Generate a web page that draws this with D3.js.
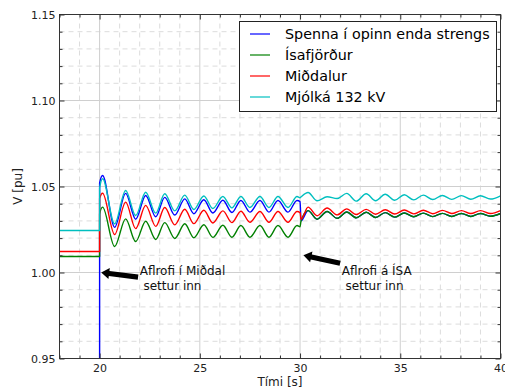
<!DOCTYPE html>
<html><head><meta charset="utf-8">
<script src="https://cdn.jsdelivr.net/npm/d3@7"></script>
<style>
body{margin:0;background:#fff;}
svg text{font-family:"DejaVu Sans",sans-serif;}
</style>
</head><body>
<svg id="chart" width="505" height="390"></svg>
<script>
// ---------- data ----------
const xTicks = [20, 25, 30, 35, 40];
const yTicks = [0.95, 1.00, 1.05, 1.10, 1.15];
const seriesNames = ["Spenna í opinn enda strengs", "Ísafjörður", "Miðdalur", "Mjólká 132 kV"];

// before the first switching (t = 18 .. 20)
const tPre = [18, 20];
const bluePre  = [0, 0];
const greenPre = [1.0093, 1.0093];
const redPre   = [1.0122, 1.0122];
const cyanPre  = [1.0244, 1.0244];

// after the first switching (extrema)
const t1 = [20.001, 20.15, 20.75, 21.3, 21.8, 22.3, 22.8, 23.25, 23.75, 24.25, 24.7, 25.2, 25.65, 26.15, 26.6, 27.05, 27.5, 28.0, 28.45, 28.9, 29.4, 29.85, 30.0];
const blue1  = [1.052, 1.0564, 1.0263, 1.0460, 1.0310, 1.0448, 1.0324, 1.0437, 1.0334, 1.0428, 1.0342, 1.0423, 1.0346, 1.0420, 1.0349, 1.0419, 1.0351, 1.0419, 1.0351, 1.0419, 1.0351, 1.0419, 1.0412];
const green1 = [1.034, 1.0380, 1.0151, 1.0312, 1.0180, 1.0298, 1.0192, 1.0290, 1.0198, 1.0283, 1.0202, 1.0278, 1.0204, 1.0275, 1.0205, 1.0273, 1.0205, 1.0273, 1.0205, 1.0273, 1.0205, 1.0273, 1.0266];
const red1   = [1.043, 1.0461, 1.0221, 1.0409, 1.0255, 1.0390, 1.0268, 1.0378, 1.0277, 1.0368, 1.0284, 1.0362, 1.0288, 1.0358, 1.0290, 1.0356, 1.0292, 1.0355, 1.0292, 1.0355, 1.0292, 1.0355, 1.0348];
const cyan1  = [1.049, 1.0545, 1.0283, 1.0477, 1.0331, 1.0467, 1.0345, 1.0458, 1.0358, 1.0450, 1.0366, 1.0445, 1.0372, 1.0442, 1.0376, 1.0442, 1.0378, 1.0442, 1.0378, 1.0442, 1.0378, 1.0442, 1.0435];

// after the second switching
const t2 = [30.05, 30.4, 30.85, 31.35, 31.85, 32.33, 32.8, 33.3, 33.77, 34.25, 34.72, 35.2, 35.67, 36.15, 36.62, 37.1, 37.57, 38.05, 38.52, 39.0, 39.5, 40.0];
const blue2  = [1.0300, 1.0360, 1.0310, 1.0355, 1.0315, 1.0352, 1.0318, 1.0350, 1.0320, 1.0348, 1.0322, 1.0346, 1.0324, 1.0345, 1.0325, 1.0344, 1.0326, 1.0343, 1.0326, 1.0343, 1.0327, 1.0343];
const green2 = [1.0300, 1.0360, 1.0310, 1.0355, 1.0315, 1.0352, 1.0318, 1.0350, 1.0320, 1.0348, 1.0322, 1.0346, 1.0324, 1.0345, 1.0325, 1.0344, 1.0326, 1.0343, 1.0326, 1.0343, 1.0327, 1.0343];
const red2   = [1.0310, 1.0380, 1.0330, 1.0375, 1.0335, 1.0370, 1.0337, 1.0367, 1.0339, 1.0365, 1.0340, 1.0363, 1.0341, 1.0362, 1.0342, 1.0361, 1.0343, 1.0360, 1.0343, 1.0360, 1.0343, 1.0360];
const cyan2  = [1.0440, 1.0465, 1.0417, 1.0440, 1.0430, 1.0460, 1.0415, 1.0458, 1.0417, 1.0455, 1.0420, 1.0452, 1.0422, 1.0450, 1.0424, 1.0448, 1.0425, 1.0447, 1.0426, 1.0446, 1.0427, 1.0446];

// annotations (text lines, arrow tip, arrow tail, text anchor) in data units
const annotTexts = [["Aflrofi í Miðdal", " settur inn"], ["Aflrofi á ÍSA", " settur inn"]];
const annotTips  = [[20.08, 1.000], [30.17, 1.010]];
const annotTails = [[21.92, 0.9973], [32.0, 1.0054]];
const annotTextAt = [[22.0, 1.0], [32.08, 1.0]];

// ---------- layout / style ----------
const colors = ["#0000ff", "#008000", "#ff0000", "#00bfbf"];
const L = 59.5, R = 500.5, T = 14.5, B = 358.5;
const svg = d3.select("#chart");

const x = d3.scaleLinear().domain([18, 40]).range([L, R]);
const y = d3.scaleLinear().domain([0.95, 1.15]).range([B, T]);

svg.append("rect").attr("x", L).attr("y", T).attr("width", R - L).attr("height", B - T).attr("fill", "#fff");

const xMinor = d3.range(18, 40.001, 1).filter(v => !xTicks.includes(v));
const yMinor = d3.range(95, 115.001, 1).map(v => +(v / 100).toFixed(2)).filter(v => !yTicks.some(t => Math.abs(t - v) < 1e-9));

// grid
const grid = svg.append("g");
grid.selectAll(".gxm").data(xMinor).enter().append("line")
  .attr("x1", d => x(d)).attr("x2", d => x(d)).attr("y1", T).attr("y2", B)
  .attr("stroke", "#dcdcdc").attr("stroke-dasharray", "5,4").attr("stroke-width", 1);
grid.selectAll(".gym").data(yMinor).enter().append("line")
  .attr("y1", d => y(d)).attr("y2", d => y(d)).attr("x1", L).attr("x2", R)
  .attr("stroke", "#dcdcdc").attr("stroke-dasharray", "5,4").attr("stroke-width", 1);
grid.selectAll(".gx").data(xTicks).enter().append("line")
  .attr("x1", d => x(d)).attr("x2", d => x(d)).attr("y1", T).attr("y2", B)
  .attr("stroke", "#cfcfcf").attr("stroke-width", 1);
grid.selectAll(".gy").data(yTicks).enter().append("line")
  .attr("y1", d => y(d)).attr("y2", d => y(d)).attr("x1", L).attr("x2", R)
  .attr("stroke", "#cfcfcf").attr("stroke-width", 1);

// series
svg.append("clipPath").attr("id", "clip").append("rect")
  .attr("x", L).attr("y", T).attr("width", R - L).attr("height", B - T);
const plot = svg.append("g").attr("clip-path", "url(#clip)");
const line = d3.line().x(d => x(d[0])).y(d => y(d[1])).curve(d3.curveMonotoneX);
const zip = (ts, vs) => ts.map((t, i) => [t, vs[i]]);

const seriesData = [
  [...zip(tPre, bluePre), ...zip(t1, blue1), ...zip(t2, blue2)],
  [...zip(tPre, greenPre), ...zip(t1, green1), ...zip(t2, green2)],
  [...zip(tPre, redPre), ...zip(t1, red1), ...zip(t2, red2)],
  [...zip(tPre, cyanPre), ...zip(t1, cyan1), ...zip(t2, cyan2)]
];
seriesData.forEach((pts, i) => {
  plot.append("path").attr("d", line(pts)).attr("fill", "none")
    .attr("stroke", colors[i]).attr("stroke-width", 1.4).attr("stroke-linejoin", "round");
});

// axes
function addAxis(axis, tx, ty, labels) {
  const g = svg.append("g").attr("transform", `translate(${tx},${ty})`).call(axis);
  g.select(".domain").remove();
  g.selectAll("line").attr("stroke", "#333");
  g.selectAll("text").attr("font-size", 11).attr("fill", "#222").attr("font-family", "DejaVu Sans, sans-serif");
  if (!labels) g.selectAll("text").remove();
  return g;
}
addAxis(d3.axisBottom(x).tickValues(xTicks).tickFormat(d3.format("d")).tickSizeInner(-5).tickSizeOuter(0).tickPadding(6), 0, B, true);
addAxis(d3.axisBottom(x).tickValues(xMinor).tickSizeInner(-3).tickSizeOuter(0), 0, B, false);
addAxis(d3.axisTop(x).tickValues(xTicks).tickSizeInner(-5).tickSizeOuter(0), 0, T, false);
addAxis(d3.axisTop(x).tickValues(xMinor).tickSizeInner(-3).tickSizeOuter(0), 0, T, false);
addAxis(d3.axisLeft(y).tickValues(yTicks).tickFormat(d3.format(".2f")).tickSizeInner(-5).tickSizeOuter(0).tickPadding(4), L, 0, true);
addAxis(d3.axisLeft(y).tickValues(yMinor).tickSizeInner(-3).tickSizeOuter(0), L, 0, false);
addAxis(d3.axisRight(y).tickValues(yTicks).tickSizeInner(-5).tickSizeOuter(0), R, 0, false);
addAxis(d3.axisRight(y).tickValues(yMinor).tickSizeInner(-3).tickSizeOuter(0), R, 0, false);

svg.append("rect").attr("x", L).attr("y", T).attr("width", R - L).attr("height", B - T)
  .attr("fill", "none").attr("stroke", "#333").attr("stroke-width", 1);

// axis labels
svg.append("text").attr("x", (L + R) / 2).attr("y", 386).attr("text-anchor", "middle")
  .attr("font-size", 12).attr("fill", "#222").text("Tími [s]");
svg.append("text").attr("transform", `translate(22,${(T + B) / 2 + 0}) rotate(-90)`)
  .attr("text-anchor", "middle").attr("font-size", 12).attr("fill", "#222").text("V [pu]");

// annotations
annotTexts.forEach((lines, i) => {
  const tip = [x(annotTips[i][0]), y(annotTips[i][1])];
  const tail = [x(annotTails[i][0]), y(annotTails[i][1])];
  const dx = tail[0] - tip[0], dy = tail[1] - tip[1];
  const len = Math.hypot(dx, dy), ux = dx / len, uy = dy / len, px = -uy, py = ux;
  const hl = 8, hw = 5.5, sw = 2.6;
  const hb = [tip[0] + ux * hl, tip[1] + uy * hl];
  const poly = [
    tip,
    [hb[0] + px * hw, hb[1] + py * hw],
    [hb[0] + px * sw, hb[1] + py * sw],
    [tail[0] + px * sw, tail[1] + py * sw],
    [tail[0] - px * sw, tail[1] - py * sw],
    [hb[0] - px * sw, hb[1] - py * sw],
    [hb[0] - px * hw, hb[1] - py * hw]
  ];
  svg.append("polygon").attr("points", poly.map(p => p.join(",")).join(" ")).attr("fill", "#000");
  const tx = x(annotTextAt[i][0]), ty = y(annotTextAt[i][1]);
  lines.forEach((s, k) => {
    svg.append("text").attr("x", tx).attr("y", ty + 2 + k * 15).attr("font-size", 12)
      .attr("fill", "#111").style("white-space", "pre").text(s);
  });
});

// legend
const lg = svg.append("g");
lg.append("rect").attr("x", 239.5).attr("y", 21.5).attr("width", 257).attr("height", 90)
  .attr("fill", "#fff").attr("stroke", "#222").attr("stroke-width", 1);
seriesNames.forEach((name, i) => {
  const cy = 34 + i * 21;
  lg.append("line").attr("x1", 250).attr("x2", 270).attr("y1", cy).attr("y2", cy)
    .attr("stroke", colors[i]).attr("stroke-width", 1.2);
  lg.append("text").attr("x", 285).attr("y", cy + 5).attr("font-size", 14.3).attr("fill", "#000").text(name);
});
</script>
</body></html>
